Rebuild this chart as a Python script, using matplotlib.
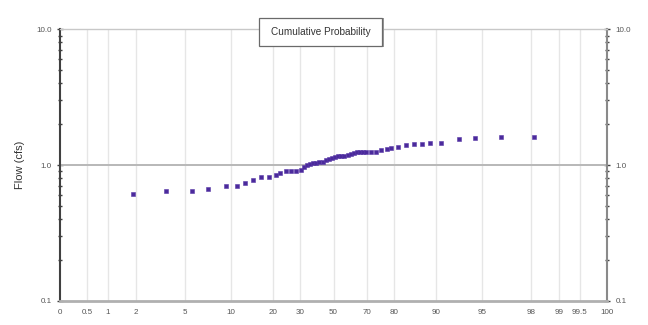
import numpy as np
import matplotlib
matplotlib.use('Agg')
import matplotlib.pyplot as plt
from matplotlib.patches import Rectangle
from matplotlib.ticker import FixedLocator, FixedFormatter, LogLocator, NullFormatter

plt.rcParams['font.family'] = ['Liberation Sans', 'DejaVu Sans']

# exceedance / cumulative probability (%) of each ranked flow
prob = [1.9, 3.8, 5.7, 7.5, 9.4, 11.3, 13.2, 15.1, 17.0, 18.9,
        20.8, 22.6, 24.5, 26.4, 28.3, 30.2, 32.1, 34.0, 35.8, 37.7,
        39.6, 41.5, 43.4, 45.3, 47.2, 49.1, 50.9, 52.8, 54.7, 56.6,
        58.5, 60.4, 62.3, 64.2, 66.0, 67.9, 69.8, 71.7, 73.6, 75.5,
        77.4, 79.2, 81.1, 83.0, 84.9, 86.8, 88.7, 90.6, 92.5, 94.3,
        96.2, 98.1]
# flow (cfs)
flow = [0.61, 0.64, 0.64, 0.67, 0.70, 0.70, 0.74, 0.78, 0.82, 0.82,
        0.85, 0.87, 0.90, 0.91, 0.91, 0.92, 0.96, 1.00, 1.02, 1.03,
        1.04, 1.05, 1.06, 1.08, 1.10, 1.12, 1.14, 1.17, 1.17, 1.17,
        1.19, 1.21, 1.22, 1.24, 1.24, 1.24, 1.24, 1.24, 1.24, 1.30,
        1.31, 1.33, 1.36, 1.41, 1.43, 1.44, 1.45, 1.45, 1.56, 1.59,
        1.60, 1.62]

x_ticks = [0, 0.5, 1, 2, 5, 10, 20, 30, 50, 70, 80, 90, 95, 98, 99, 99.5, 100]
x_labels = ['0', '0.5', '1', '2', '5', '10', '20', '30', '50', '70', '80',
            '90', '95', '98', '99', '99.5', '100']
y_ticks = [0.1, 1, 10]
y_labels = ['0.1', '1.0', '10.0']

# probability-paper spacing of the x axis (relative units, 50% at 0)
scale_u = [-273, -246, -225, -197, -148, -102, -60, -33, 0,
           33, 60, 102, 148, 197, 225, 246, 273]


def fwd(p):
    return np.interp(p, x_ticks, scale_u)


def inv(u):
    return np.interp(u, scale_u, x_ticks)


fig = plt.figure(figsize=(6.48, 3.25), dpi=100)
ax = fig.add_axes([60/648, 1-300.7/325, 547/648, 271.4/325])

ax.set_xscale('function', functions=(fwd, inv))
ax.set_yscale('log')
ax.set_xlim(0, 100)
ax.set_ylim(0.1, 10)

ax.plot(prob, flow, linestyle='none', marker='s', markersize=2.7,
        color='#4b2a9c', markeredgecolor='#5a3aa8', markeredgewidth=0.4,
        zorder=5)

ax.xaxis.set_major_locator(FixedLocator(x_ticks))
ax.xaxis.set_major_formatter(FixedFormatter(x_labels))
ax.xaxis.set_minor_locator(FixedLocator([]))
ax.yaxis.set_major_locator(FixedLocator(y_ticks))
ax.yaxis.set_major_formatter(FixedFormatter(y_labels))
ax.yaxis.set_minor_locator(LogLocator(base=10, subs=np.arange(2, 10)))
ax.yaxis.set_minor_formatter(NullFormatter())

for xv in x_ticks[1:-1]:
    ax.axvline(xv, color='#e6e6e6', linewidth=1.0, zorder=1)
ax.axhline(1.0, color='#b8b8b8', linewidth=1.4, zorder=2)

ax.tick_params(axis='x', length=0, pad=6, labelsize=5.8, labelcolor='#555555')
ax.tick_params(axis='y', which='both', left=True, right=True,
               labelleft=True, labelright=True, labelsize=5.8,
               labelcolor='#555555', color='#404040', direction='inout')
ax.tick_params(axis='y', which='major', length=5, width=1)
ax.tick_params(axis='y', which='minor', length=3, width=1)

ax.spines['left'].set_color('#404040')
ax.spines['left'].set_linewidth(1.5)
ax.spines['right'].set_color('#8a8a8a')
ax.spines['right'].set_linewidth(1.5)
ax.spines['top'].set_color('#c8c8c8')
ax.spines['top'].set_linewidth(1.0)
ax.spines['bottom'].set_color('#b0b0b0')
ax.spines['bottom'].set_linewidth(2.0)

ax.set_ylabel('Flow (cfs)', fontsize=8, color='#333333', labelpad=8)

# title box
fig.patches.append(Rectangle((261/648, 1-47/325), 123/648, 29/325,
                             transform=fig.transFigure, facecolor='#9a9a9a',
                             edgecolor='none', zorder=9))
fig.patches.append(Rectangle((259/648, 1-46/325), 123/648, 28/325,
                             transform=fig.transFigure, facecolor='white',
                             edgecolor='#6a6a6a', linewidth=0.9, zorder=10))
fig.text(320.5/648, 1-32/325, 'Cumulative Probability', ha='center', va='center',
         fontsize=7.2, color='#333333', zorder=11)

fig.savefig('out.png', dpi=100)
